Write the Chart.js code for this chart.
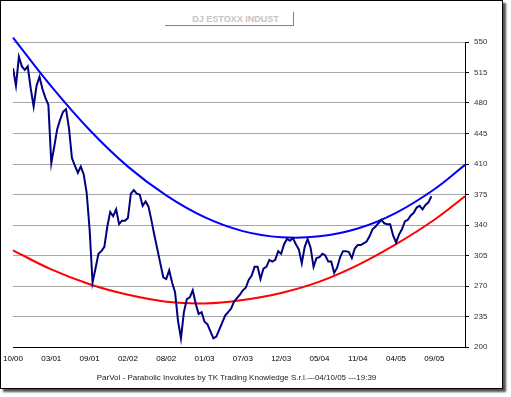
<!DOCTYPE html>
<html>
<head>
<meta charset="utf-8">
<script src="https://cdn.jsdelivr.net/npm/chart.js@4"></script>
<style>
  html, body { margin: 0; padding: 0; background: #ffffff; }
  #wrap { position: relative; width: 511px; height: 397px; overflow: hidden; }
  #frame { position: absolute; left: 0; top: 0; width: 501px; height: 387px; border: 1px solid #000; box-shadow: 3px 3px 2px #505050; background: #fff; }
  #titlebox { position: absolute; left: 165px; top: 12px; width: 128px; height: 13px; border-right: 1px solid #808080; border-bottom: 1px solid #808080; }
  #title { position: absolute; left: 150px; width: 171px; top: 14px; text-align: center; font: bold 9px "Liberation Sans", Arial, sans-serif; color: #c4c4c4; line-height: 11px; }
  #footer { position: absolute; left: 0; width: 473px; top: 373px; text-align: center; font: 8px "Liberation Sans", Arial, sans-serif; color: #202020; line-height: 10px; }
  canvas { position: absolute; left: 0; top: 0; }
</style>
</head>
<body>
<div id="wrap">
  <div id="frame"></div>
  <div id="titlebox"></div>
  <div id="title">DJ ESTOXX INDUST</div>
  <canvas id="c" width="511" height="397"></canvas>
  <div id="footer">ParVol - Parabolic Involutes by TK Trading Knowledge S.r.l.---04/10/05 ---19:39</div>
</div>
<script>
// Tick labels along the date axis (one per label step)
const tickLabels = ["10/00","03/01","09/01","02/02","08/02","01/03","07/03","12/03","05/04","11/04","04/05","09/05"];
// Price samples: 13 samples per label step
const pointsPerStep = 13;
const price = [
  520,500,533,522,518,522,497,476,500,510,
  496,486,478,411,430,450,461,470,473,451,
  417,408,400,407,398,377,335,274,290,307,
  310,315,338,355,350,358,341,345,345,348,
  376,380,376,375,362,367,361,345,328,312,
  296,280,278,288,274,263,230,210,240,255,
  257,265,250,238,240,229,226,218,210,212,
  220,228,236,240,244,252,256,260,265,268,
  277,282,292,292,278,290,292,300,298,300,
  310,307,318,324,322,325,318,312,296,315,
  324,314,292,302,303,307,305,298,298,285,
  291,303,310,310,309,302,313,317,317,319,
  321,327,335,338,342,346,342,341,341,328,
  320,329,335,344,346,351,354,360,362,358,
  363,366,373
];
// Parabolic involute curves sampled at label positions
const curvePos = [0,1,2,3,4,5,6,7,8,9,10,11,11.8];
const upperCurve = [555,499,449,407,374,349,333,326,327,336,354,381,409];
const lowerCurve = [311,289,272,260,252,250,254,262,275,294,318,346,373];
// Value axis
const yMin = 200, yMax = 550, yStep = 35;
const xMax = 11.8;

const priceData = price.map((v, i) => ({ x: i / pointsPerStep, y: v }));
const upperData = upperCurve.map((v, i) => ({ x: curvePos[i], y: v }));
const lowerData = lowerCurve.map((v, i) => ({ x: curvePos[i], y: v }));

new Chart(document.getElementById('c'), {
  type: 'line',
  data: {
    datasets: [
      { label: 'DJ ESTOXX INDUST', data: priceData, borderColor: '#000080', borderWidth: 2, pointRadius: 0, tension: 0, order: 0 },
      { label: 'Upper', data: upperData, borderColor: '#0000ff', borderWidth: 2, pointRadius: 0, tension: 0.4, clip: 8, order: 1 },
      { label: 'Lower', data: lowerData, borderColor: '#ff0000', borderWidth: 2, pointRadius: 0, tension: 0.4, clip: 8, order: 2 }
    ]
  },
  options: {
    responsive: false,
    animation: false,
    events: [],
    layout: { padding: { left: 13, top: 42, right: 0, bottom: 30 } },
    plugins: { legend: { display: false }, tooltip: { enabled: false }, title: { display: false } },
    scales: {
      x: {
        type: 'linear', min: 0, max: xMax,
        grid: { display: true, color: 'rgba(0,0,0,0)', drawTicks: false },
        border: { display: true, color: '#000', width: 1 },
        ticks: {
          stepSize: 1, autoSkip: false, maxRotation: 0, padding: 7,
          color: '#000', font: { family: '"Liberation Sans", Arial, sans-serif', size: 8 },
          callback: (v) => (Number.isInteger(v) && tickLabels[v] !== undefined) ? tickLabels[v] : ''
        },
        afterFit: (s) => { s.height = 20; s.paddingLeft = 0; s.paddingRight = 0; }
      },
      y: {
        position: 'right', min: yMin, max: yMax,
        grid: { color: '#a8a8a8', lineWidth: 1, tickLength: 4, tickColor: '#000' },
        border: { display: true, color: '#000', width: 1 },
        ticks: {
          stepSize: yStep, padding: 5,
          color: '#303030', font: { family: '"Liberation Sans", Arial, sans-serif', size: 8 }
        },
        afterFit: (s) => { s.width = 46; }
      }
    }
  }
});
</script>
</body>
</html>
